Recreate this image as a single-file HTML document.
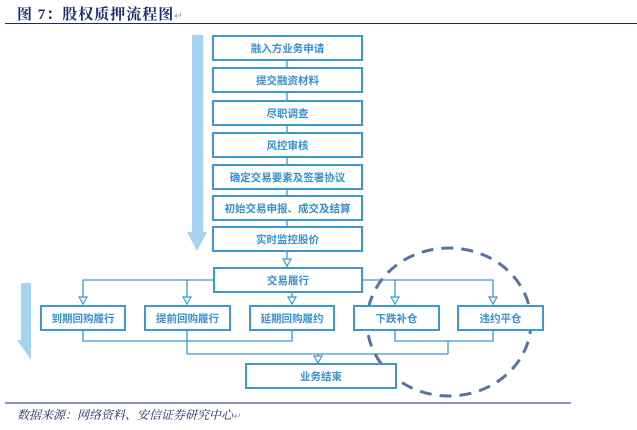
<!DOCTYPE html>
<html><head><meta charset="utf-8"><style>
html,body{margin:0;padding:0;background:#fff;width:637px;height:430px;overflow:hidden;position:relative;font-family:"Liberation Sans","Noto Sans CJK SC",sans-serif}
.t{position:absolute;left:17px;top:3px;font-family:"Liberation Serif","Noto Serif CJK SC",serif;font-weight:bold;font-size:15px;color:#1b2a6b;letter-spacing:1px}
.b{position:absolute;box-sizing:border-box;border:2px solid #3d98d3;color:#3a8fcf;font-size:10.5px;font-weight:bold;display:flex;align-items:center;justify-content:center;background:#fff}
.c{position:absolute;left:17px;top:406px;font-family:"Liberation Serif","Noto Serif CJK SC",serif;font-style:italic;font-size:12px;color:#1b2a6b}
</style></head><body>
<div class="t">图 7：股权质押流程图<span style="font-size:10px;color:#999;font-weight:normal">↵</span></div>
<div style="position:absolute;left:5px;top:23px;width:632px;height:1px;background:#1b2a6b"></div>
<svg width="637" height="430" style="position:absolute;left:0;top:0">
<g fill="#a6d3ef">
<polygon points="192,35 203,35 203,232 207,232 197,251 187,232 192,232"/>
<polygon points="21,283 31,283 31,340 31,360 17,340 21,340"/>
</g>
<g stroke="#3d98d3" stroke-width="1.3" fill="none">
<line x1="287" y1="60" x2="287" y2="229"/>
<line x1="287" y1="252" x2="287" y2="267"/>
<polyline points="83,303 83,280 493,280 493,303"/>
<line x1="187" y1="280" x2="187" y2="303"/><line x1="292" y1="280" x2="292" y2="303"/><line x1="395" y1="280" x2="395" y2="303"/>
<polyline points="83,331 83,341 292,341 292,331"/><line x1="187" y1="331" x2="187" y2="354"/>
<polyline points="395,331 395,341 493,341 493,331"/><line x1="448" y1="341" x2="448" y2="354"/>
<line x1="187" y1="354" x2="448" y2="354"/><line x1="318" y1="354" x2="318" y2="360"/>
</g>
<g fill="#fff" stroke="#3d98d3" stroke-width="1.2">
<polygon points="283,259 291,259 287,266"/>
<polygon points="79,297 87,297 83,304"/><polygon points="183,297 191,297 187,304"/><polygon points="288,297 296,297 292,304"/>
<polygon points="391,297 399,297 395,304"/><polygon points="489,297 497,297 493,304"/><polygon points="314,356 322,356 318,363"/>
</g>
<ellipse cx="449" cy="322" rx="82" ry="74" fill="none" stroke="#5873a0" stroke-width="3" stroke-dasharray="12,8"/>
<line x1="5" y1="403" x2="571" y2="403" stroke="#1b2a6b" stroke-width="1"/>
</svg>
<div class="b" style="left:212px;top:35px;width:151px;height:26px">融入方业务申请</div>
<div class="b" style="left:212px;top:67px;width:151px;height:26px">提交融资材料</div>
<div class="b" style="left:212px;top:100px;width:151px;height:26px">尽职调查</div>
<div class="b" style="left:212px;top:132px;width:151px;height:26px">风控审核</div>
<div class="b" style="left:212px;top:164px;width:151px;height:26px">确定交易要素及签署协议</div>
<div class="b" style="left:212px;top:195px;width:151px;height:26px">初始交易申报、成交及结算</div>
<div class="b" style="left:212px;top:226px;width:151px;height:26px">实时监控股价</div>
<div class="b" style="left:213px;top:267px;width:150px;height:26px">交易履行</div>
<div class="b" style="left:40px;top:305px;width:86px;height:26px">到期回购履行</div>
<div class="b" style="left:144px;top:305px;width:87px;height:26px">提前回购履行</div>
<div class="b" style="left:249px;top:305px;width:86px;height:26px">延期回购履约</div>
<div class="b" style="left:353px;top:305px;width:87px;height:26px">下跌补仓</div>
<div class="b" style="left:457px;top:305px;width:87px;height:26px">违约平仓</div>
<div class="b" style="left:245px;top:363px;width:152px;height:26px">业务结束</div>
<div class="c">数据来源：网络资料、安信证券研究中心<span style="font-size:9px;color:#999">↵</span></div>
</body></html>
